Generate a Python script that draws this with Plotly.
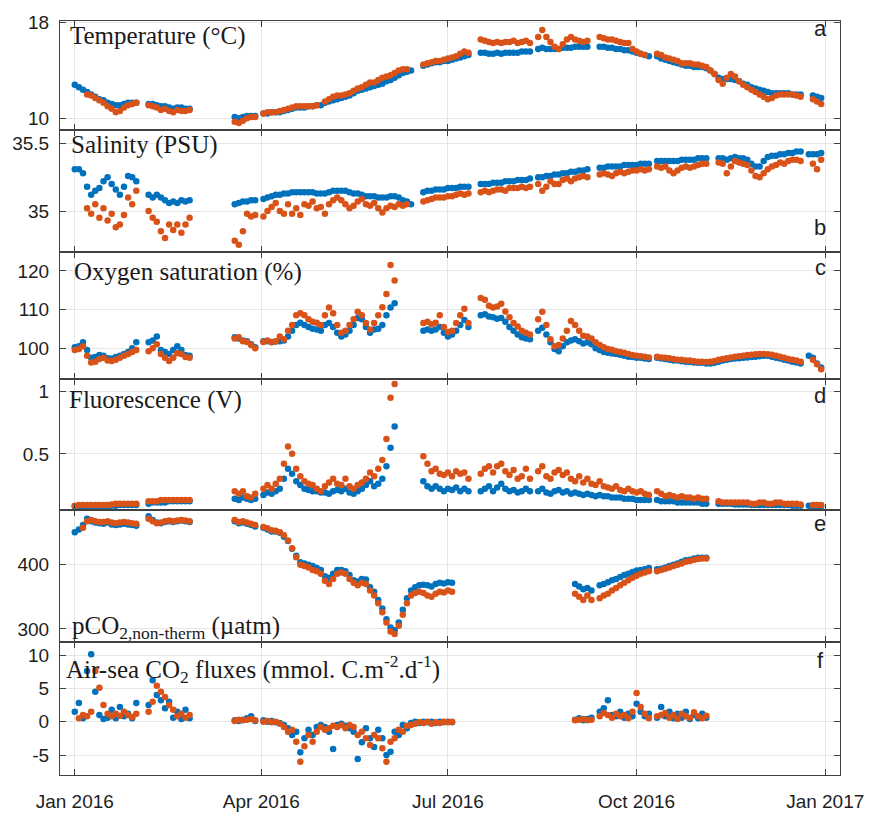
import pandas as pd
import plotly.graph_objects as go

_ = None  # no measurement

# Sampling grid: every second day of 2016 (day 0 = 1 Jan 2016)
day_offsets = list(range(0, 365, 2))

# ---- a: Temperature (°C) ----
temp_blue = [
    12.8, 12.6, 12.4, 12.2, 12.0, 11.8, 11.6, 11.5, 11.3, 11.2,
    11.1, 11.1, 11.2, 11.3, 11.3, 11.3, _, _, 11.2, 11.2,
    11.1, 11.0, 11.0, 10.9, 10.8, 10.9, 10.9, 10.8, 10.8, _,
    _, _, _, _, _, _, _, _, _, 10.1,
    10.0, 10.1, 10.2, 10.2, 10.2, _, 10.4, 10.4, 10.5, 10.5,
    10.5, 10.6, 10.7, 10.8, 10.9, 10.9, 10.9, 11.0, 11.0, 11.1,
    11.1, 11.3, 11.4, 11.5, 11.6, 11.7, 11.8, 11.9, 12.1, 12.3,
    12.4, 12.5, 12.6, 12.7, 12.8, 12.9, 13.1, 13.2, 13.4, 13.6,
    13.8, 13.9, 14.0, _, _, 14.4, 14.5, 14.6, 14.7, 14.7,
    14.8, 14.8, 14.9, 15.0, 15.1, 15.2, 15.3, _, _, 15.5,
    15.5, 15.4, 15.4, 15.5, 15.4, 15.5, 15.5, 15.5, 15.5, 15.6,
    15.6, 15.6, _, 15.8, 15.9, 15.8, 15.8, 15.8, 15.8, 15.9,
    15.9, 15.9, 16.0, 16.0, 16.0, 16.0, _, _, 16.0, 16.0,
    15.9, 15.9, 15.8, 15.8, 15.7, 15.7, 15.6, 15.5, 15.4, 15.3,
    15.2, _, 15.2, 15.0, 14.9, 14.8, 14.7, 14.6, 14.5, 14.4,
    14.4, 14.3, 14.3, 14.3, 14.2, 14.0, 13.7, 13.4, 13.3, 13.3,
    13.3, 13.2, 13.1, 12.9, 12.8, 12.6, 12.5, 12.4, 12.3, 12.2,
    12.1, 12.1, 12.1, 12.1, 12.1, 12.0, 12.0, 12.0, _, _,
    11.9, 11.8, 11.7,
]
temp_orange = [
    _, _, _, 12.0, 11.9, 11.7, 11.5, 11.3, 11.0, 10.8,
    10.5, 10.6, 10.9, 11.1, 11.2, 11.3, _, _, 11.1, 11.0,
    10.9, 10.7, 10.8, 10.6, 10.5, 10.7, 10.6, 10.6, 10.7, _,
    _, _, _, _, _, _, _, _, _, 9.7,
    9.6, 9.8, 10.0, 10.1, 10.1, _, 10.4, 10.5, 10.5, 10.5,
    10.6, 10.7, 10.8, 10.9, 11.0, 11.0, 11.0, 11.0, 11.0, 11.1,
    _, 11.4, 11.6, 11.8, 11.9, 11.9, 12.0, 12.1, 12.3, 12.5,
    12.6, 12.8, 13.0, 13.0, 13.2, 13.4, 13.5, 13.6, 13.8, 14.0,
    14.1, 14.1, _, _, _, 14.5, 14.6, 14.7, 14.8, 14.8,
    14.9, 15.0, 15.1, 15.2, 15.4, 15.6, 15.5, _, _, 16.6,
    16.5, 16.4, 16.3, 16.4, 16.3, 16.4, 16.4, 16.5, 16.3, 16.4,
    16.5, 16.3, _, 16.8, 17.4, 16.8, 16.4, 16.0, 15.8, 16.2,
    16.6, 16.8, 16.6, 16.5, 16.4, 16.5, _, _, 16.8, 16.7,
    16.6, 16.6, 16.5, 16.4, 16.3, 16.3, 15.8, 15.6, 15.4, 15.3,
    _, _, 15.4, 15.3, 15.1, 15.0, 14.9, 14.8, 14.6, 14.6,
    14.6, 14.5, 14.5, 14.4, 14.3, 14.0, 13.7, 13.2, 12.9, 13.4,
    13.7, 13.5, 13.1, 12.8, 12.6, 12.4, 12.2, 12.0, 11.8, 11.6,
    11.7, 11.9, 12.0, 12.0, 12.0, 12.0, 11.9, 11.8, _, _,
    11.6, 11.4, 11.2,
]

# ---- b: Salinity (PSU) ----
sal_blue = [
    35.31, 35.31, 35.28, 35.18, 35.12, 35.15, 35.17, 35.22, 35.25, 35.20,
    35.16, 35.12, 35.18, 35.26, 35.25, 35.22, _, _, 35.12, 35.10,
    35.12, 35.10, 35.08, 35.06, 35.07, 35.06, 35.08, 35.07, 35.08, _,
    _, _, _, _, _, _, _, _, _, 35.05,
    35.06, 35.07, 35.07, 35.08, 35.08, _, 35.09, 35.10, 35.11, 35.12,
    35.12, 35.13, 35.13, 35.14, 35.14, 35.14, 35.14, 35.14, 35.14, 35.13,
    35.13, 35.13, 35.14, 35.15, 35.15, 35.15, 35.15, 35.14, 35.13, 35.13,
    35.12, 35.11, 35.11, 35.11, 35.10, 35.10, 35.10, 35.11, 35.11, 35.10,
    35.08, 35.07, 35.05, _, _, 35.14, 35.15, 35.15, 35.16, 35.16,
    35.16, 35.17, 35.17, 35.17, 35.18, 35.18, 35.18, _, _, 35.20,
    35.20, 35.20, 35.21, 35.21, 35.21, 35.22, 35.22, 35.22, 35.23, 35.23,
    35.23, 35.24, _, 35.25, 35.25, 35.26, 35.26, 35.27, 35.27, 35.28,
    35.28, 35.29, 35.29, 35.30, 35.30, 35.31, _, _, 35.32, 35.32,
    35.33, 35.33, 35.33, 35.33, 35.34, 35.34, 35.34, 35.34, 35.35, 35.35,
    35.35, _, 35.37, 35.37, 35.37, 35.37, 35.37, 35.37, 35.38, 35.38,
    35.38, 35.38, 35.39, 35.39, 35.39, _, _, 35.39, 35.39, 35.38,
    35.39, 35.40, 35.39, 35.39, 35.38, 35.35, 35.33, 35.33, 35.37, 35.40,
    35.41, 35.41, 35.42, 35.42, 35.43, 35.43, 35.44, 35.44, _, 35.42,
    35.42, 35.42, 35.43,
]
sal_orange = [
    _, _, _, 35.02, 34.98, 35.05, 34.95, 35.02, 34.93, 34.98,
    34.88, 34.90, 34.97, 35.10, 35.05, 35.15, _, _, 35.00, 34.95,
    34.92, 34.85, 34.80, 34.90, 34.86, 34.90, 34.84, 34.90, 34.95, _,
    _, _, _, _, _, _, _, _, _, 34.78,
    34.75, 34.85, 34.98, 34.96, 34.97, _, 34.96, 35.00, 35.03, 35.06,
    35.00, 34.98, 35.05, 34.98, 35.02, 34.97, 35.05, 35.04, 35.07, 35.02,
    35.03, 34.98, 35.05, 35.08, 35.10, 35.08, 35.05, 35.02, 35.04, 35.07,
    35.09, 35.05, 35.04, 35.06, 35.02, 34.99, 35.02, 35.04, 35.03, 35.05,
    35.04, 35.05, _, _, _, 35.07, 35.08, 35.09, 35.10, 35.10,
    35.10, 35.11, 35.11, 35.12, 35.13, 35.12, 35.13, _, _, 35.14,
    35.15, 35.14, 35.15, 35.16, 35.16, 35.15, 35.17, 35.17, 35.17, 35.18,
    35.17, 35.18, _, 35.20, 35.15, 35.18, 35.22, 35.20, 35.20, 35.23,
    35.24, 35.22, 35.24, 35.25, 35.26, 35.25, _, _, 35.27, 35.28,
    35.27, 35.26, 35.28, 35.29, 35.28, 35.29, 35.30, 35.30, 35.31, 35.30,
    35.31, _, 35.33, 35.32, 35.33, 35.30, 35.28, 35.30, 35.32, 35.33,
    35.32, 35.33, 35.34, 35.35, 35.35, _, _, 35.36, 35.35, 35.28,
    35.33, 35.37, 35.36, 35.35, 35.34, 35.30, 35.26, 35.25, 35.28, 35.31,
    35.33, 35.34, 35.36, 35.35, 35.37, 35.38, 35.38, 35.37, _, _,
    35.35, 35.31, 35.38,
]

# ---- c: Oxygen saturation (%) ----
oxy_blue = [
    100.2, 100.5, 101.5, 99.5, 97.5, 97.7, 98.2, 98.0, 97.4, 97.3,
    97.7, 98.0, 98.5, 99.0, 100.0, 101.5, _, _, 101.5, 102.0,
    103.0, 99.5, 99.0, 98.5, 99.5, 100.5, 99.5, 98.2, 98.0, _,
    _, _, _, _, _, _, _, _, _, 102.8,
    102.5, 102.0, 101.8, 101.0, 100.2, _, 101.8, 101.8, 101.6, 101.7,
    101.8, 102.0, 103.0, 104.5, 106.0, 106.6, 106.0, 105.5, 105.0, 104.8,
    104.5, 106.0, 106.5, 105.5, 104.0, 103.0, 103.5, 104.5, 106.0, 107.8,
    107.5, 105.5, 104.0, 104.8, 105.0, 106.0, 108.5, 110.5, 111.6, _,
    _, _, _, _, _, 104.5, 104.8, 104.5, 104.8, 105.5,
    104.0, 103.0, 103.5, 104.5, 106.0, 107.3, 105.5, _, _, 108.5,
    108.8, 108.2, 108.0, 107.6, 107.8, 106.8, 105.5, 104.5, 103.5, 102.8,
    102.5, 102.3, _, 104.5, 105.3, 103.5, 101.5, 99.8, 99.2, 100.5,
    101.5, 102.0, 102.3, 101.8, 101.2, 101.5, 101.0, 100.0, 99.5, 99.0,
    98.8, 98.6, 98.5, 98.3, 98.0, 97.8, 97.7, 97.5, 97.5, 97.3,
    97.2, _, 97.5, 97.3, 97.2, 97.0, 96.8, 96.8, 96.6, 96.5,
    96.4, 96.3, 96.2, 96.2, 96.0, 96.0, 96.2, 96.5, 96.8, 97.0,
    97.2, 97.3, 97.4, 97.5, 97.6, 97.7, 97.8, 97.9, 98.0, 98.0,
    97.8, 97.5, 97.3, 97.0, 96.8, 96.5, 96.3, 96.0, _, 98.0,
    97.5, 96.0, 95.0,
]
oxy_orange = [
    99.5, 99.8, 100.5, 98.0, 96.3, 96.5, 97.2, 97.5, 96.8, 96.7,
    97.0, 97.5, 98.0, 98.5, 99.0, 99.5, _, _, 99.2, 100.0,
    101.0, 98.5, 97.5, 96.7, 97.5, 98.7, 98.5, 97.7, 97.5, _,
    _, _, _, _, _, _, _, _, _, 102.5,
    102.8, 101.8, 101.6, 100.8, 100.0, _, 101.6, 102.0, 101.5, 101.8,
    103.0, 102.3, 104.5, 106.0, 108.5, 109.0, 108.5, 107.5, 106.8, 106.6,
    106.0, 108.5, 110.5, 109.0, 106.0, 104.0, 104.5, 106.0, 107.5, 109.4,
    108.5, 106.5, 104.8, 106.5, 108.5, 110.6, 114.0, 121.5, 117.5, _,
    _, _, _, _, _, 106.5, 106.8, 106.2, 106.6, 108.5,
    105.5, 104.2, 104.5, 106.5, 108.5, 110.2, 106.5, _, _, 113.0,
    112.5, 111.0, 110.5, 110.8, 111.5, 109.5, 108.0, 106.5, 105.6, 104.5,
    104.0, 103.5, _, 107.5, 109.4, 106.0, 102.3, 100.5, 100.8, 102.5,
    104.5, 107.0, 106.0, 104.5, 103.2, 103.0, 102.5, 101.5, 100.8, 100.2,
    99.8, 99.6, 99.2, 99.0, 98.8, 98.5, 98.2, 98.0, 97.9, 97.8,
    97.6, _, 97.8, 97.6, 97.5, 97.4, 97.2, 97.0, 97.0, 96.8,
    96.8, 96.6, 96.5, 96.5, 96.4, 96.5, 96.7, 97.0, 97.2, 97.4,
    97.6, 97.8, 97.9, 98.0, 98.2, 98.3, 98.4, 98.5, 98.5, 98.4,
    98.3, 98.0, 97.8, 97.5, 97.2, 97.0, 96.8, 96.5, _, _,
    97.0, 95.8, 94.5,
]

# ---- d: Fluorescence (V) ----
fluo_blue = [
    0.08, 0.08, 0.08, 0.08, 0.08, 0.08, 0.08, 0.08, 0.08, 0.085,
    0.085, 0.09, 0.09, 0.09, 0.09, 0.09, _, _, 0.10, 0.11,
    0.11, 0.11, 0.11, 0.12, 0.12, 0.12, 0.12, 0.12, 0.12, _,
    _, _, _, _, _, _, _, _, _, 0.14,
    0.13, 0.15, 0.14, 0.13, 0.14, _, 0.17, 0.19, 0.18, 0.20,
    0.22, 0.30, 0.38, 0.34, 0.28, 0.25, 0.22, 0.21, 0.20, 0.20,
    0.19, 0.19, 0.18, 0.20, 0.21, 0.20, 0.22, 0.19, 0.18, 0.20,
    0.22, 0.25, 0.28, 0.24, 0.26, 0.30, 0.40, 0.55, 0.72, _,
    _, _, _, _, _, 0.28, 0.24, 0.22, 0.24, 0.22,
    0.20, 0.22, 0.21, 0.23, 0.20, 0.22, 0.20, _, _, 0.20,
    0.22, 0.24, 0.20, 0.23, 0.26, 0.22, 0.20, 0.21, 0.19, 0.20,
    0.22, 0.20, _, 0.20, 0.22, 0.19, 0.18, 0.20, 0.21, 0.19,
    0.20, 0.18, 0.19, 0.18, 0.17, 0.18, 0.17, 0.16, 0.17, 0.16,
    0.16, 0.15, 0.15, 0.15, 0.14, 0.14, 0.14, 0.13, 0.13, 0.13,
    0.13, _, 0.13, 0.12, 0.12, 0.12, 0.12, 0.11, 0.11, 0.11,
    0.11, 0.11, 0.11, 0.10, 0.10, _, _, 0.10, 0.10, 0.10,
    0.10, 0.095, 0.095, 0.095, 0.095, 0.09, 0.09, 0.09, 0.09, 0.09,
    0.09, 0.09, 0.09, 0.09, 0.09, 0.085, 0.085, 0.085, _, 0.085,
    0.08, 0.08, 0.08,
]
fluo_orange = [
    0.085, 0.09, 0.09, 0.09, 0.09, 0.09, 0.09, 0.09, 0.09, 0.095,
    0.10, 0.10, 0.10, 0.10, 0.10, 0.10, _, _, 0.12, 0.12,
    0.12, 0.13, 0.13, 0.13, 0.13, 0.13, 0.13, 0.13, 0.13, _,
    _, _, _, _, _, _, _, _, _, 0.20,
    0.18, 0.20, 0.16, 0.15, 0.18, _, 0.22, 0.25, 0.22, 0.26,
    0.30, 0.42, 0.56, 0.50, 0.38, 0.32, 0.28, 0.26, 0.25, 0.22,
    0.20, 0.24, 0.27, 0.30, 0.26, 0.25, 0.30, 0.24, 0.22, 0.25,
    0.27, 0.30, 0.35, 0.32, 0.38, 0.45, 0.62, 0.95, 1.06, _,
    _, _, _, _, _, 0.48, 0.42, 0.36, 0.38, 0.34,
    0.33, 0.35, 0.32, 0.36, 0.34, 0.35, 0.30, _, _, 0.34,
    0.38, 0.40, 0.35, 0.40, 0.42, 0.36, 0.33, 0.37, 0.30, 0.32,
    0.38, 0.30, _, 0.36, 0.40, 0.32, 0.30, 0.35, 0.37, 0.33,
    0.35, 0.30, 0.28, 0.32, 0.27, 0.30, 0.26, 0.25, 0.28, 0.24,
    0.23, 0.22, 0.24, 0.21, 0.20, 0.22, 0.20, 0.19, 0.20, 0.18,
    0.17, _, 0.20, 0.18, 0.16, 0.17, 0.16, 0.15, 0.16, 0.15,
    0.15, 0.14, 0.15, 0.14, 0.14, _, _, 0.12, 0.11, 0.11,
    0.11, 0.11, 0.11, 0.11, 0.11, 0.10, 0.10, 0.11, 0.11, 0.10,
    0.10, 0.11, 0.11, 0.10, 0.10, 0.10, 0.10, 0.095, _, _,
    0.09, 0.09, 0.09,
]

# ---- e: pCO2 non-thermal (µatm) ----
pco2_blue = [
    451, 455, 462, 472, 468, 466, 465, 464, 466, 463,
    462, 463, 464, 463, 462, 461, _, _, 476, 470,
    466, 465, 467, 468, 467, 468, 469, 468, 467, _,
    _, _, _, _, _, _, _, _, _, 468,
    465, 466, 464, 462, 460, _, 458, 455, 452, 452,
    450, 444, 437, 425, 414, 404, 402, 400, 398, 395,
    392, 382, 380, 386, 392, 392, 390, 384, 376, 374,
    378, 377, 365, 358, 345, 332, 315, 302, 298, 310,
    330, 348, 360, 365, 368, 369, 368, 366, 370, 372,
    371, 373, 372, _, _, _, _, _, _, _,
    _, _, _, _, _, _, _, _, _, _,
    _, _, _, _, _, _, _, _, _, _,
    _, _, 370, 366, 362, 364, 360, _, 368, 370,
    373, 376, 378, 381, 384, 386, 389, 391, 392, 393,
    395, _, 393, 394, 396, 398, 400, 402, 405, 407,
    408, 410, 411, 411, 411, _, _, _, _, _,
    _, _, _, _, _, _, _, _, _, _,
    _, _, _, _, _, _, _, _, _, _,
    _, _, _,
]
pco2_orange = [
    _, _, 458, 468, 470, 468, 467, 467, 468, 466,
    465, 466, 467, 466, 465, 464, _, _, 472, 468,
    465, 466, 468, 469, 468, 469, 470, 469, 468, _,
    _, _, _, _, _, _, _, _, _, 470,
    467, 468, 466, 464, 462, _, 459, 457, 454, 453,
    451, 446, 438, 426, 412, 400, 398, 396, 392, 390,
    386, 375, 370, 378, 386, 388, 386, 378, 372, 368,
    372, 370, 360, 352, 340, 326, 310, 296, 292, 305,
    322, 340, 352, 356, 358, 356, 352, 350, 355, 358,
    357, 360, 358, _, _, _, _, _, _, _,
    _, _, _, _, _, _, _, _, _, _,
    _, _, _, _, _, _, _, _, _, _,
    _, _, 355, 350, 345, 352, 345, _, 348, 352,
    355, 360, 364, 368, 372, 376, 380, 383, 386, 388,
    390, _, 390, 392, 394, 396, 398, 400, 402, 405,
    406, 408, 409, 410, 410, _, _, _, _, _,
    _, _, _, _, _, _, _, _, _, _,
    _, _, _, _, _, _, _, _, _, _,
    _, _, _,
]

# ---- f: Air-sea CO2 fluxes (mmol C m-2 d-1) ----
flux_blue = [
    1.5, 2.8, 0.5, 7.6, 10.1, 4.5, 1.0, 0.4, 0.6, 1.8,
    0.5, 2.2, 0.8, 1.2, 0.5, 2.8, _, _, 2.5, 6.2,
    4.0, 3.2, 2.0, 3.0, 0.6, 1.5, 0.4, 1.8, 0.5, _,
    _, _, _, _, _, _, _, _, _, 0.2,
    0.1, 0.3, 0.5, 0.8, 0.1, _, 0.2, 0.0, 0.1, -0.1,
    -0.2, -0.5, -1.0, -2.0, -1.5, -4.6, -2.5, -1.2, -2.0, -0.8,
    -0.5, -0.8, -1.5, -4.1, -0.5, -0.3, -0.6, -1.0, -1.5, -5.6,
    -3.1, -1.0, -2.5, -3.8, -1.2, -2.5, -5.0, -4.5, -1.5, -2.0,
    -0.5, -1.0, -0.2, 0.0, -0.2, 0.0, -0.1, 0.0, -0.2, 0.0,
    -0.1, 0.0, -0.1, _, _, _, _, _, _, _,
    _, _, _, _, _, _, _, _, _, _,
    _, _, _, _, _, _, _, _, _, _,
    _, _, 0.3, 0.5, 0.2, 0.4, 0.6, _, 1.5, 2.0,
    3.2, 1.0, 0.8, 1.5, 0.6, 1.2, 0.8, 2.7, 1.5, 0.8,
    1.2, _, 0.6, 2.2, 0.8, 1.5, 0.5, 1.2, 0.6, 1.5,
    0.4, 1.0, 0.5, 1.2, 0.6, _, _, _, _, _,
    _, _, _, _, _, _, _, _, _, _,
    _, _, _, _, _, _, _, _, _, _,
    _, _, _,
]
flux_orange = [
    _, 0.5, 1.0, 0.8, 1.5, 7.6, 5.1, 2.5, 1.2, 0.8,
    1.2, 0.9, 1.5, 1.0, 0.7, 1.2, _, _, 1.5, 3.0,
    5.4, 4.5, 3.7, 2.5, 1.8, 0.8, 1.2, 0.6, 1.0, _,
    _, _, _, _, _, _, _, _, _, 0.1,
    0.3, 0.2, 0.3, 0.4, 0.2, _, 0.0, 0.1, -0.1, 0.0,
    -0.3, -0.8, -1.5, -1.2, -3.0, -6.0, -3.7, -2.0, -3.0, -1.5,
    -0.8, -1.2, -1.0, -0.6, -0.8, -0.5, -1.0, -0.5, -0.8, -2.0,
    -1.5, -2.5, -3.5, -2.0, -2.5, -4.0, -6.0, -3.0, -2.5, -1.2,
    -1.5, -0.6, -0.5, -0.3, -0.1, -0.2, 0.0, -0.3, -0.1, -0.2,
    0.0, -0.1, 0.0, _, _, _, _, _, _, _,
    _, _, _, _, _, _, _, _, _, _,
    _, _, _, _, _, _, _, _, _, _,
    _, _, 0.2, 0.3, 0.4, 0.2, 0.3, _, 0.8, 1.3,
    1.0, 0.6, 1.2, 0.8, 1.0, 0.5, 1.5, 4.3, 2.2, 1.2,
    0.5, _, 0.8, 1.0, 1.3, 0.6, 1.0, 0.4, 1.2, 0.8,
    0.6, 1.4, 0.8, 0.5, 0.9, _, _, _, _, _,
    _, _, _, _, _, _, _, _, _, _,
    _, _, _, _, _, _, _, _, _, _,
    _, _, _,
]

# Axis ticks per panel
temp_ticks = [10, 18]
sal_ticks = [35, 35.5]
oxy_ticks = [100, 110, 120]
fluo_ticks = [0.5, 1]
pco2_ticks = [300, 400]
flux_ticks = [-5, 0, 5, 10]
date_ticks = ["2016-01-01", "2016-04-01", "2016-07-01", "2016-10-01", "2017-01-01"]
date_labels = ["Jan 2016", "Apr 2016", "Jul 2016", "Oct 2016", "Jan 2017"]

panel_titles = [
    "Temperature (°C)",
    "Salinity (PSU)",
    "Oxygen saturation (%)",
    "Fluorescence (V)",
    "pCO<sub>2,non-therm</sub> (µatm)",
    "Air-sea CO<sub>2</sub> fluxes (mmol. C.m<sup>-2</sup>.d<sup>-1</sup>)",
]
panel_letters = ["a", "b", "c", "d", "e", "f"]

series = [
    (temp_blue, temp_orange),
    (sal_blue, sal_orange),
    (oxy_blue, oxy_orange),
    (fluo_blue, fluo_orange),
    (pco2_blue, pco2_orange),
    (flux_blue, flux_orange),
]
for b, o in series:
    assert len(b) == len(day_offsets) and len(o) == len(day_offsets), (len(b), len(o))

dates = pd.Timestamp("2016-01-01") + pd.to_timedelta(day_offsets, unit="D")

# ---- page geometry (pixels) ----
W, H = 876, 824
L, R, T, B = 58, 847, 13, 788
edges = [13, 125, 250, 381, 516, 651, 788]


def fx(px):
    return (px - L) / (R - L)


def fy(py):
    return (B - py) / (B - T)


BLUE = "#0072BD"
ORANGE = "#D95319"
AXIS = "#404040"
GRID = "#e6e6e6"
TICKFONT = dict(family="Liberation Sans, Arial, sans-serif", size=19, color="#1e1e1e")

y_ranges = [[9.02, 18.15], [34.70, 35.60], [92, 125], [0.047, 1.10], [280, 485], [-8.0, 12.0]]
y_ticks = [temp_ticks, sal_ticks, oxy_ticks, fluo_ticks, pco2_ticks, flux_ticks]
y_ticktext = [
    [str(v) for v in temp_ticks],
    [str(v) for v in sal_ticks],
    [str(v) for v in oxy_ticks],
    ["0.5", "1"],
    [str(v) for v in pco2_ticks],
    [str(v) for v in flux_ticks],
]

fig = go.Figure()
layout = dict(
    width=W,
    height=H,
    margin=dict(l=L, r=W - R, t=T, b=H - B, pad=0),
    paper_bgcolor="white",
    plot_bgcolor="white",
    showlegend=False,
    annotations=[],
)

for i, (blue, orange) in enumerate(series):
    n = i + 1
    xa = "x" if n == 1 else f"x{n}"
    ya = "y" if n == 1 else f"y{n}"
    for vals, col in ((blue, BLUE), (orange, ORANGE)):
        fig.add_trace(
            go.Scatter(
                x=dates,
                y=vals,
                mode="markers",
                marker=dict(color=col, size=6.5, line=dict(width=0)),
                xaxis=xa,
                yaxis=ya,
                hoverinfo="skip",
            )
        )
    xkey = "xaxis" if n == 1 else f"xaxis{n}"
    ykey = "yaxis" if n == 1 else f"yaxis{n}"
    layout[xkey] = dict(
        domain=[0, 1],
        anchor=ya,
        range=["2015-12-24 19:00", "2017-01-08 05:00"],
        tickvals=date_ticks,
        ticktext=date_labels,
        showticklabels=(n == 6),
        ticks="inside",
        ticklen=6,
        tickwidth=1,
        tickcolor=AXIS,
        showline=True,
        linecolor=AXIS,
        linewidth=1.1,
        mirror="ticks",
        showgrid=True,
        gridcolor=GRID,
        gridwidth=1,
        zeroline=False,
        tickfont=TICKFONT,
        ticklabelstandoff=9,
    )
    if n > 1:
        layout[xkey]["matches"] = "x"
    layout[ykey] = dict(
        domain=[fy(edges[i + 1]), fy(edges[i])],
        anchor=xa,
        range=y_ranges[i],
        tickvals=y_ticks[i],
        ticktext=y_ticktext[i],
        ticks="inside",
        ticklen=6,
        tickwidth=1,
        tickcolor=AXIS,
        showline=True,
        linecolor=AXIS,
        linewidth=1.1,
        mirror="ticks",
        showgrid=True,
        gridcolor=GRID,
        gridwidth=1,
        zeroline=False,
        tickfont=TICKFONT,
        ticklabelstandoff=6,
    )

# Panel titles (serif, inside each panel)
title_pos = [(66, 28), (67, 140), (70, 271), (65, 403), (68, 636), (62, 679)]
for text, (px, py) in zip(panel_titles, title_pos):
    layout["annotations"].append(
        dict(
            text=text,
            x=fx(px),
            y=fy(py),
            xref="paper",
            yref="paper",
            xanchor="left",
            yanchor="middle",
            showarrow=False,
            font=dict(family="Liberation Serif, Times New Roman, serif", size=25, color="#1a1a1a"),
        )
    )

# Panel letters (right side)
letter_pos = [(827, 21), (827, 225), (827, 266), (827, 398), (827, 530), (827, 670)]
for text, (px, py) in zip(panel_letters, letter_pos):
    layout["annotations"].append(
        dict(
            text=text,
            x=fx(px),
            y=fy(py),
            xref="paper",
            yref="paper",
            xanchor="center",
            yanchor="middle",
            showarrow=False,
            font=dict(family="Liberation Sans, Arial, sans-serif", size=22, color="#1e1e1e"),
        )
    )

fig.update_layout(**layout)
fig.write_html("out.html")
